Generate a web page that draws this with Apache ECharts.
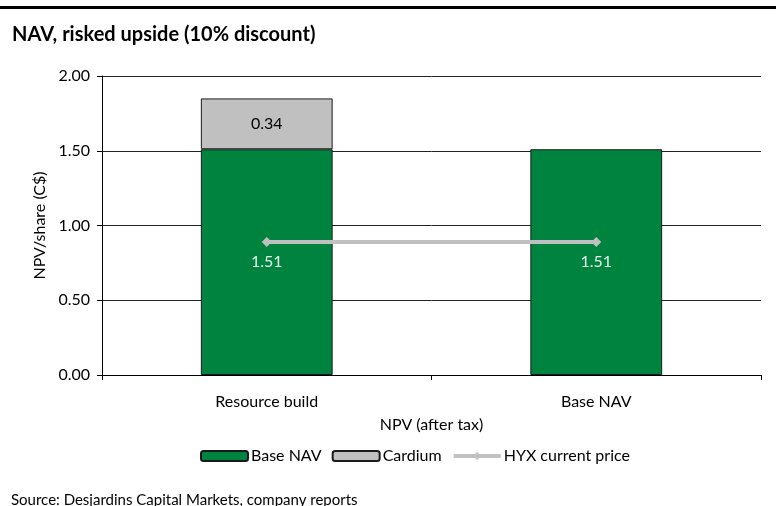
<!DOCTYPE html>
<html>
<head>
<meta charset="utf-8">
<script src="https://cdn.jsdelivr.net/npm/echarts@6/dist/echarts.min.js"></script>
<style>
    html, body { margin: 0; padding: 0; background: #fff; }
    #chart { width: 776px; height: 506px; }
</style>
</head>
<body>
<div id="chart"></div>
<script>
// categories and values
var categories = ['Resource build', 'Base NAV'];
var baseNav = [1.51, 1.51];
var cardium = [0.34, null];
var hyxPrice = [0.89, 0.89];
var yTicks = [0, 0.5, 1, 1.5, 2];

var fontName = 'Lato';
var fs = 16;

var myChart = echarts.init(document.getElementById('chart'));
var option = {
    backgroundColor: '#fff',
    animation: false,
    textStyle: { fontFamily: fontName },
    title: {
        text: 'NAV, risked upside (10% discount)',
        left: 7,
        top: 20,
        textStyle: { fontFamily: fontName, fontSize: 20, fontWeight: 'bold', color: '#000' }
    },
    graphic: [
        {
            type: 'rect',
            shape: { x: 0, y: 6, width: 776, height: 3 },
            style: { fill: '#000' }
        },
        {
            type: 'text',
            left: 11,
            top: 493,
            style: {
                text: 'Source: Desjardins Capital Markets, company reports',
                font: '15px "' + fontName + '"',
                fill: '#000'
            }
        }
    ],
    legend: {
        left: 195,
        top: 443,
        itemGap: 10,
        itemWidth: 47,
        itemHeight: 10,
        textStyle: { fontFamily: fontName, fontSize: fs, color: '#000', padding: [0, 0, 0, -2] },
        data: [
            { name: 'Base NAV' },
            { name: 'Cardium' },
            { name: 'HYX current price', lineStyle: { width: 4, color: '#c0c0c0' } }
        ]
    },
    grid: {
        left: 102,
        right: 15,
        top: 76,
        bottom: 131
    },
    xAxis: {
        type: 'category',
        data: categories,
        name: 'NPV (after tax)',
        nameLocation: 'middle',
        nameGap: 42,
        nameTextStyle: { fontFamily: fontName, fontSize: fs, color: '#000' },
        axisLine: { lineStyle: { color: '#000', width: 1 } },
        axisTick: { show: true, length: 5, lineStyle: { color: '#000' } },
        axisLabel: { fontFamily: fontName, fontSize: fs, color: '#000', margin: 19 }
    },
    yAxis: {
        type: 'value',
        min: yTicks[0],
        max: yTicks[yTicks.length - 1],
        interval: 0.5,
        name: 'NPV/share (C$)',
        nameLocation: 'middle',
        nameGap: 54,
        nameRotate: 90,
        nameTextStyle: { fontFamily: fontName, fontSize: fs, color: '#000' },
        axisLine: { show: true, lineStyle: { color: '#000', width: 1 } },
        axisTick: { show: true, length: 5, inside: false, lineStyle: { color: '#000' } },
        axisLabel: {
            fontFamily: fontName, fontSize: fs, color: '#000', margin: 12,
            formatter: function (v) { return v.toFixed(2); }
        },
        splitLine: { show: true, lineStyle: { color: '#222', width: 1 } }
    },
    series: [
        {
            name: 'Base NAV',
            type: 'bar',
            stack: 'nav',
            barWidth: '40%',
            data: baseNav,
            itemStyle: { color: '#00833f', borderColor: '#1a1a1a', borderWidth: 1 },
            label: {
                show: true,
                position: 'inside',
                fontFamily: fontName,
                fontSize: fs,
                color: '#e4efe8',
                formatter: function (p) { return p.value.toFixed(2); }
            }
        },
        {
            name: 'Cardium',
            type: 'bar',
            stack: 'nav',
            barWidth: '40%',
            data: cardium,
            itemStyle: { color: '#c0c0c0', borderColor: '#1a1a1a', borderWidth: 1 },
            label: {
                show: true,
                position: 'inside',
                fontFamily: fontName,
                fontSize: fs,
                color: '#000',
                formatter: function (p) { return p.value.toFixed(2); }
            }
        },
        {
            name: 'HYX current price',
            type: 'line',
            data: hyxPrice,
            z: 5,
            symbol: 'diamond',
            symbolSize: 10,
            lineStyle: { color: '#c0c0c0', width: 4 },
            itemStyle: { color: '#c0c0c0' }
        }
    ]
};
myChart.setOption(option);
</script>
</body>
</html>
